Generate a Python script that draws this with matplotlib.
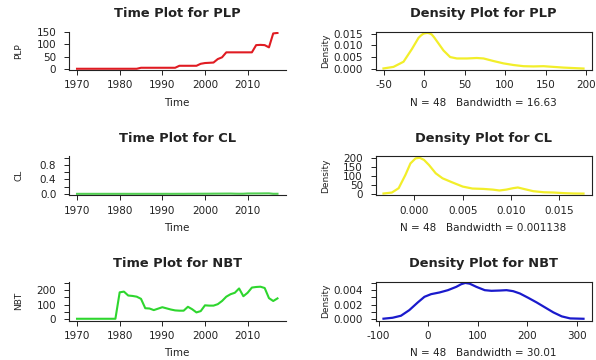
import numpy as np
import matplotlib
matplotlib.use("Agg")
import matplotlib.pyplot as plt

# ---------------- data ----------------
years = list(range(1970, 2018))

plp = [1] * 15 + [5] * 9 + [13] * 5 + [21, 24, 25, 26, 40, 47] + [67] * 7 + [96, 97, 96, 87, 143, 145]

cl = [0.0004, 0.0003, 0.0005, 0.0004, 0.0006, 0.0003, 0.0005, 0.0007, 0.0004, 0.0006,
      0.0005, 0.0008, 0.0003, 0.0006, 0.0005, 0.0004, 0.0007, 0.0009, 0.0002, 0.0006,
      0.0005, 0.0011, 0.0004, 0.0008, 0.0013, 0.0006, 0.0020, 0.0024, 0.0029, 0.0033,
      0.0038, 0.0042, 0.0055, 0.0061, 0.0068, 0.0075, 0.0082, 0.0046, 0.0027, 0.0035,
      0.0103, 0.0109, 0.0112, 0.0118, 0.0131, 0.0140, 0.0017, 0.0022]

nbt = [2] * 10 + [185, 190, 163, 160, 155, 140, 75, 73, 62, 72,
                  82, 74, 66, 60, 58, 58, 85, 68, 46, 55,
                  95, 93, 93, 103, 125, 155, 172, 182, 212, 158,
                  182, 218, 222, 224, 215, 145, 125, 143]

plp_dens_x = [-50, -37.7, -25.3, -15.0, -6.8, -3.5, -0.7, 1.8, 4.3, 7.0, 9.6, 12.5, 15.8,
              24.0, 32.2, 40.5, 52.8, 65.1, 73.4, 85.7, 98.0, 110.4, 122.7, 135.0,
              147.4, 159.7, 172.0, 184.4, 196.7]
plp_dens_y = [0.00014, 0.0008, 0.0030, 0.0084, 0.0132, 0.0143, 0.0150, 0.0152, 0.0153,
              0.0151, 0.0146, 0.0134, 0.0118, 0.0078, 0.0050, 0.0044, 0.0044, 0.0046,
              0.0044, 0.0033, 0.0023, 0.0016, 0.0011, 0.0010, 0.0011, 0.0008, 0.0005,
              0.0003, 0.0001]

cl_dens_x = [-0.00321, -0.00234, -0.00164, -0.00094, -0.00042, 0.00010, 0.00052, 0.00098,
             0.0015, 0.0022, 0.0029, 0.0039, 0.0050, 0.0060, 0.0071, 0.0081, 0.0088,
             0.0095, 0.0102, 0.0107, 0.0113, 0.0123, 0.0134, 0.0144, 0.0155, 0.0165, 0.0175]
cl_dens_y = [1.9, 7.5, 32, 107, 172, 200, 204, 192, 163, 116, 88, 65, 41, 30, 28, 24, 19,
             24, 32, 36, 28, 15, 9, 7.5, 4, 2, 1.5]

nbt_dens_x = [-90, -71.6, -54.7, -37.8, -20.8, -7.3, 6.2, 23.1, 40.1, 57.0, 67.1, 75.2,
              84.0, 97.6, 114.5, 128.0, 144.9, 158.5, 172.0, 185.5, 202.4, 219.4, 236.3,
              253.2, 270.1, 287.0, 314.0]
nbt_dens_y = [0.00005, 0.00018, 0.00046, 0.00124, 0.0023, 0.00308, 0.00345, 0.00368,
              0.0040, 0.00446, 0.00483, 0.00500, 0.00490, 0.00446, 0.0040, 0.00391,
              0.00395, 0.0040, 0.00386, 0.00354, 0.00294, 0.0023, 0.00161, 0.00092,
              0.00037, 0.00009, 0.00004]

time_xticks = [1970, 1980, 1990, 2000, 2010]
plp_yticks = [0, 50, 100, 150]
plp_yticklabels = ["0", "50", "100", "150"]
cl_yticks = [0.0, 0.2, 0.4, 0.6, 0.8, 1.0]
cl_yticklabels = ["0.0", "", "0.4", "", "0.8", ""]
nbt_yticks = [0, 50, 100, 150, 200, 250]
nbt_yticklabels = ["0", "", "100", "", "200", ""]

plp_dxticks = [-50, 0, 50, 100, 150, 200]
plp_dyticks = [0.0, 0.005, 0.010, 0.015]
plp_dyticklabels = ["0.000", "0.005", "0.010", "0.015"]
cl_dxticks = [0.0, 0.005, 0.010, 0.015]
cl_dxticklabels = ["0.000", "0.005", "0.010", "0.015"]
cl_dyticks = [0, 50, 100, 150, 200]
nbt_dxticks = [-100, 0, 100, 200, 300]
nbt_dyticks = [0.0, 0.001, 0.002, 0.003, 0.004, 0.005]
nbt_dyticklabels = ["0.000", "", "0.002", "", "0.004", ""]

names = ["PLP", "CL", "NBT"]
bandwidths = ["16.63", "0.001138", "30.01"]
n_obs = 48

# ---------------- layout ----------------
W, H = 596, 360
fig = plt.figure(figsize=(W / 100, H / 100), dpi=100)
fig.patch.set_facecolor("white")

rows = [(31.5, 70.2), (156.3, 195.3), (281.5, 320.5)]
cols = [(69.0, 285.5), (375.5, 591.5)]
TXT = "#222222"
FS = 7.5


def rect(c, r):
    x0, x1 = cols[c]
    y0, y1 = rows[r]
    return [x0 / W, 1 - y1 / H, (x1 - x0) / W, (y1 - y0) / H]


def pad(lo, hi):
    d = (hi - lo) * 0.04
    return lo - d, hi + d


def style(ax, box):
    for s in ["left", "bottom", "top", "right"]:
        ax.spines[s].set_linewidth(0.8)
        ax.spines[s].set_color("#222222")
    if not box:
        ax.spines["top"].set_visible(False)
        ax.spines["right"].set_visible(False)
    ax.tick_params(axis="both", direction="out", length=3.6, width=0.7,
                   color="#222222", labelsize=FS, labelcolor=TXT)
    ax.tick_params(axis="y", pad=5.5)
    ax.tick_params(axis="x", pad=3.8)
    ax.set_facecolor("white")


def title(c, r, s):
    x0, x1 = cols[c]
    y0, _ = rows[r]
    fig.text((x0 + x1) / 2 / W, 1 - (y0 - 17.7) / H, s, ha="center", va="center",
             fontsize=9.4, fontweight="bold", color=TXT)


def xlab(c, r, s):
    x0, x1 = cols[c]
    _, y1 = rows[r]
    fig.text((x0 + x1) / 2 / W, 1 - (y1 + 33) / H, s, ha="center", va="center",
             fontsize=FS, color=TXT)


def ylab(c, r, s, xpx, fs):
    y0, y1 = rows[r]
    fig.text(xpx / W, 1 - (y0 + y1) / 2 / H, s, ha="center", va="center",
             rotation=90, fontsize=fs, color=TXT)


series = [plp, cl, nbt]
tcolors = ["#e01b22", "#52d052", "#2ed62e"]
ylims = [pad(min(plp), max(plp)), pad(0, 1), pad(0, 250)]
yticks = [plp_yticks, cl_yticks, nbt_yticks]
yticklabels = [plp_yticklabels, cl_yticklabels, nbt_yticklabels]

for r in range(3):
    ax = fig.add_axes(rect(0, r))
    ax.plot(years, series[r], color=tcolors[r], lw=1.5, solid_joinstyle="round")
    ax.set_xlim(*pad(min(years), max(years)))
    ax.set_ylim(*ylims[r])
    ax.set_xticks(time_xticks)
    ax.set_xticklabels([str(t) for t in time_xticks])
    ax.set_yticks(yticks[r])
    ax.set_yticklabels(yticklabels[r])
    style(ax, box=False)
    title(0, r, "Time Plot for " + names[r])
    xlab(0, r, "Time")
    ylab(0, r, names[r], 19, 6.5)

dens_x = [plp_dens_x, cl_dens_x, nbt_dens_x]
dens_y = [plp_dens_y, cl_dens_y, nbt_dens_y]
dcolors = ["#f2ee2a", "#f2ee2a", "#1a1acc"]
dxticks = [plp_dxticks, cl_dxticks, nbt_dxticks]
dxticklabels = [[str(t) for t in plp_dxticks], cl_dxticklabels, [str(t) for t in nbt_dxticks]]
dyticks = [plp_dyticks, cl_dyticks, nbt_dyticks]
dyticklabels = [plp_dyticklabels, [str(t) for t in cl_dyticks], nbt_dyticklabels]

for r in range(3):
    ax = fig.add_axes(rect(1, r))
    ax.plot(dens_x[r], dens_y[r], color=dcolors[r], lw=1.6, solid_joinstyle="round")
    ax.set_xlim(*pad(min(dens_x[r]), max(dens_x[r])))
    ax.set_ylim(*pad(0, max(dens_y[r])))
    ax.set_xticks(dxticks[r])
    ax.set_xticklabels(dxticklabels[r])
    ax.set_yticks(dyticks[r])
    ax.set_yticklabels(dyticklabels[r])
    style(ax, box=True)
    title(1, r, "Density Plot for " + names[r])
    xlab(1, r, "N = %d   Bandwidth = %s" % (n_obs, bandwidths[r]))
    ylab(1, r, "Density", 326, 6.5)

fig.savefig("out.png", dpi=100, facecolor="white")
